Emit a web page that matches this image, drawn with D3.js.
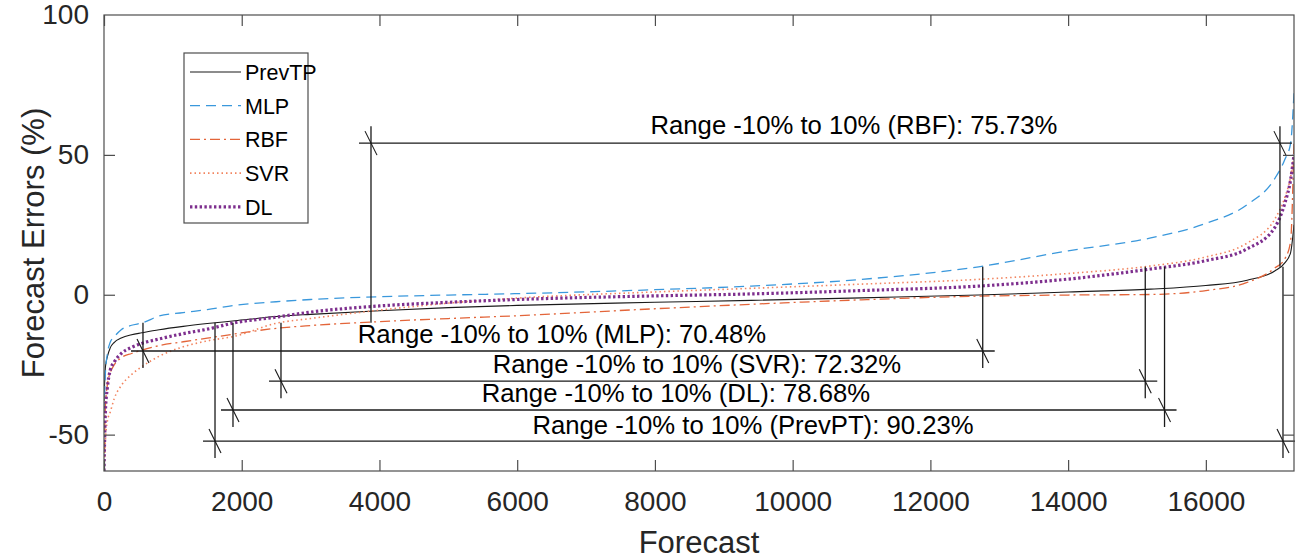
<!DOCTYPE html>
<html>
<head>
<meta charset="utf-8">
<script src="https://cdn.jsdelivr.net/npm/d3@7"></script>
<style>
  html, body { margin: 0; padding: 0; background: #fff; }
  svg { display: block; }
  text { font-family: "Liberation Sans", Arial, Helvetica, sans-serif; fill: #262626; }
</style>
</head>
<body>
<svg id="chart" width="1298" height="560"></svg>
<script>
// ---------------- data ----------------
const xs = [0, 20, 50, 90, 150, 250, 400, 550, 800, 1150, 1500, 1900, 2500, 3000, 4000, 5000, 6000, 8000, 9400, 11000, 12700, 14000, 15200, 16000, 16600, 17000, 17150, 17230, 17280];
const prevTP = [-38, -26, -22, -19, -17, -15.5, -14.3, -13.6, -12.5, -11.3, -10.3, -9.3, -7.8, -7.0, -5.7, -4.6, -3.8, -2.7, -2.0, -1.1, -0.1, 1.0, 2.0, 3.3, 5.2, 8.5, 11.5, 15, 25];
const mlp    = [-42, -28, -21, -17, -15, -12.5, -10.9, -10.1, -7.6, -6.4, -5.3, -3.8, -2.5, -1.7, -0.7, -0.1, 0.4, 1.8, 3.1, 5.5, 10.0, 15.7, 20.3, 25.5, 32.2, 41.5, 48.5, 54, 72];
const rbf    = [-63, -40, -32, -28, -25, -22.5, -21, -19.8, -18.2, -16.8, -15.5, -14, -12, -11, -9.6, -8.5, -7.5, -5, -3.4, -1.8, -0.5, -0.1, 0.1, 1.5, 4.4, 9.5, 13, 19, 55];
const svr    = [-63, -52, -45, -42, -37, -32.5, -28.5, -25.7, -22, -18.6, -16.5, -14.8, -10.2, -8.5, -5.5, -3.0, -1.2, 1.0, 2.3, 3.8, 5.5, 7.6, 10.3, 13.5, 18.5, 27, 35, 42, 50];
const dl     = [-63, -42, -33, -27, -24, -21, -18.8, -17.4, -15.8, -13.9, -12.3, -10, -8.0, -6.2, -4.0, -2.7, -1.7, -0.4, 0.3, 1.5, 3.1, 5.6, 9.2, 12.2, 16.4, 24, 33, 41, 50];

const seriesNames = ["PrevTP", "MLP", "RBF", "SVR", "DL"];
const seriesValues = [prevTP, mlp, rbf, svr, dl];

const xTicks = [0, 2000, 4000, 6000, 8000, 10000, 12000, 14000, 16000];
const yTicks = [-50, 0, 50, 100];

// annotations ("Range -10% to 10%")
const annModels = ["RBF", "MLP", "SVR", "DL", "PrevPT"];
const annPct    = ["75.73%", "70.48%", "72.32%", "78.68%", "90.23%"];
const annLeftX  = [3877, 566, 2570, 1873, 1612];
const annRightX = [17076, 12760, 15120, 15400, 17120];
const annLevel  = [54.2, -20.1, -30.9, -41.2, -52.3];
const annTextX  = [10890, 6650, 8610, 8305, 9424];
const annTextY  = [57.4, -17.2, -28.0, -38.4, -49.6];

// ---------------- styles ----------------
const styles = [
  { color: "#1a1a1a", width: 1.1, dash: null },
  { color: "#3a98dc", width: 1.3, dash: "10,6" },
  { color: "#e3653a", width: 1.3, dash: "10,4,2,4" },
  { color: "#f2845f", width: 1.6, dash: "1.5,3" },
  { color: "#7e2f8e", width: 3.2, dash: "2.4,2.4" }
];

const M = { left: 104, right: 1294, top: 15, bottom: 471 };

const svg = d3.select("#chart");
const x = d3.scaleLinear().domain([0, 17280]).range([M.left, M.right]);
const y = d3.scaleLinear().domain([-63, 100]).range([M.bottom, M.top]);

svg.append("defs").append("clipPath").attr("id", "clip")
  .append("rect").attr("x", M.left).attr("y", M.top)
  .attr("width", M.right - M.left).attr("height", M.bottom - M.top);

// curves
const line = d3.line().x(d => x(d[0])).y(d => y(d[1])).curve(d3.curveMonotoneX);
const gCurves = svg.append("g").attr("clip-path", "url(#clip)");
seriesValues.forEach((vals, i) => {
  const pts = xs.map((xv, j) => [xv, vals[j]]);
  gCurves.append("path")
    .attr("d", line(pts))
    .attr("fill", "none")
    .attr("stroke", styles[i].color)
    .attr("stroke-width", styles[i].width)
    .attr("stroke-dasharray", styles[i].dash);
});

// annotations
const gAnn = svg.append("g");
const hExt = 12, vExt = 17, sdx = 6, sdy = 12;
annModels.forEach((m, i) => {
  const ly = y(annLevel[i]);
  const xl = x(annLeftX[i]), xr = x(annRightX[i]);
  gAnn.append("line").attr("x1", xl - hExt).attr("x2", xr + hExt)
    .attr("y1", ly).attr("y2", ly)
    .attr("stroke", "#1a1a1a").attr("stroke-width", 1.3);
  [[xl, -10], [xr, 10]].forEach(([px, v]) => {
    const y0 = y(v);
    const yEnd = ly > y0 ? ly + vExt : ly - vExt;
    gAnn.append("line").attr("x1", px).attr("x2", px)
      .attr("y1", y0).attr("y2", yEnd)
      .attr("stroke", "#1a1a1a").attr("stroke-width", 1.3);
    gAnn.append("line").attr("x1", px - sdx).attr("x2", px + sdx)
      .attr("y1", ly - sdy).attr("y2", ly + sdy)
      .attr("stroke", "#1a1a1a").attr("stroke-width", 1.1);
  });
  gAnn.append("text")
    .attr("x", x(annTextX[i])).attr("y", y(annTextY[i]))
    .attr("text-anchor", "middle")
    .attr("font-size", 25.7)
    .style("fill", "#000")
    .text(`Range -10% to 10% (${m}): ${annPct[i]}`);
});

// axes box
const axisColor = "#4d4d4d";
svg.append("rect").attr("x", M.left).attr("y", M.top)
  .attr("width", M.right - M.left).attr("height", M.bottom - M.top)
  .attr("fill", "none").attr("stroke", axisColor).attr("stroke-width", 1.2);

const tickLen = 11;
const fmt = d => String(d);
const gAxes = svg.append("g");
const xb = gAxes.append("g").attr("transform", `translate(0,${M.bottom})`)
  .call(d3.axisBottom(x).tickValues(xTicks).tickSizeInner(-tickLen).tickSizeOuter(0).tickPadding(tickLen + 9).tickFormat(fmt));
const xt = gAxes.append("g").attr("transform", `translate(0,${M.top})`)
  .call(d3.axisTop(x).tickValues(xTicks).tickSizeInner(-tickLen).tickSizeOuter(0).tickFormat(""));
const yl = gAxes.append("g").attr("transform", `translate(${M.left},0)`)
  .call(d3.axisLeft(y).tickValues(yTicks).tickSizeInner(-tickLen).tickSizeOuter(0).tickPadding(tickLen + 4).tickFormat(fmt));
const yr = gAxes.append("g").attr("transform", `translate(${M.right},0)`)
  .call(d3.axisRight(y).tickValues(yTicks).tickSizeInner(-tickLen).tickSizeOuter(0).tickFormat(""));
[xb, xt, yl, yr].forEach(g => {
  g.select(".domain").remove();
  g.selectAll(".tick line").attr("stroke", axisColor).attr("stroke-width", 1.2);
  g.selectAll(".tick text").attr("font-size", 28).attr("font-family", "Liberation Sans, Arial, sans-serif").style("fill", "#262626");
});
yl.selectAll(".tick").filter(d => d === 100).select("line").remove();
yr.selectAll(".tick").filter(d => d === 100).select("line").remove();

// axis titles
svg.append("text").attr("x", (M.left + M.right) / 2).attr("y", 553)
  .attr("text-anchor", "middle").attr("font-size", 31).text("Forecast");
svg.append("text").attr("transform", `translate(44,${(M.top + M.bottom) / 2}) rotate(-90)`)
  .attr("text-anchor", "middle").attr("font-size", 31).text("Forecast Errors (%)");

// legend
const L = { x: 184, y: 53, w: 124, h: 170 };
const gLeg = svg.append("g");
gLeg.append("rect").attr("x", L.x).attr("y", L.y).attr("width", L.w).attr("height", L.h)
  .attr("fill", "#fff").attr("stroke", axisColor).attr("stroke-width", 1.2);
seriesNames.forEach((n, i) => {
  const cy = L.y + 19 + i * 33.7;
  gLeg.append("line").attr("x1", L.x + 6).attr("x2", L.x + 57)
    .attr("y1", cy).attr("y2", cy)
    .attr("stroke", styles[i].color).attr("stroke-width", styles[i].width)
    .attr("stroke-dasharray", styles[i].dash);
  gLeg.append("text").attr("x", L.x + 61).attr("y", cy + 8)
    .attr("font-size", 21.5).style("fill", "#000").text(n);
});
</script>
</body>
</html>
